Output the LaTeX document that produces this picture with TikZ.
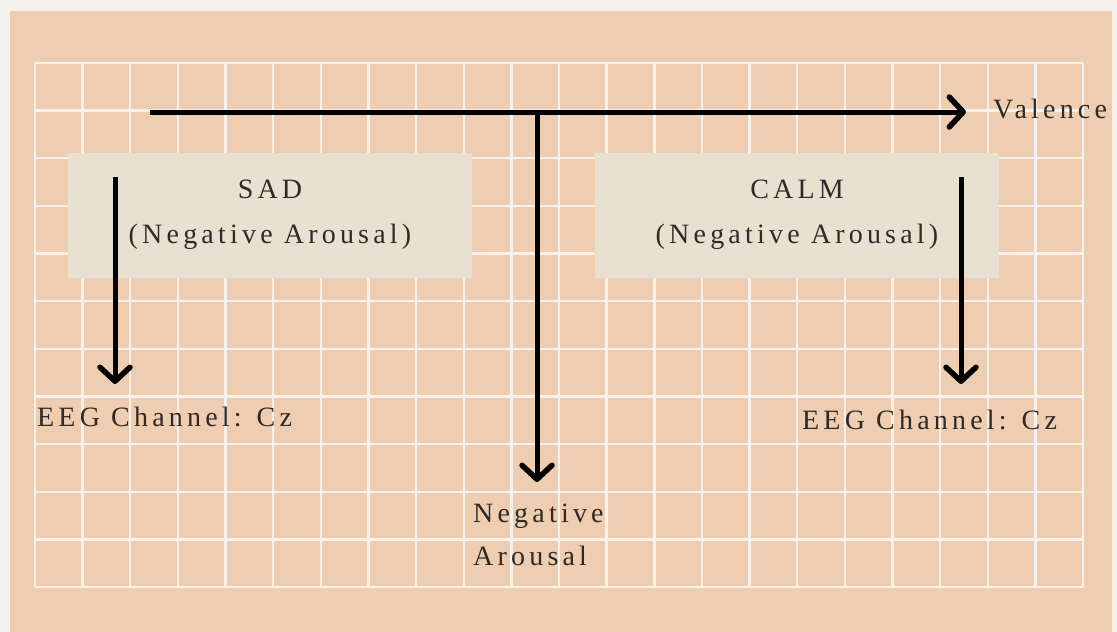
\documentclass[tikz,border=0pt]{standalone}
\usepackage{fontspec}
\setmainfont[LetterSpace=15]{Liberation Serif}
\usetikzlibrary{arrows.meta}
\definecolor{peach}{RGB}{239,205,176}
\definecolor{outer}{RGB}{245,242,237}
\definecolor{boxfill}{RGB}{232,224,209}
\definecolor{gridline}{RGB}{249,242,236}
\definecolor{txt}{RGB}{45,42,40}
\tikzset{
  lbl/.style={inner sep=0pt, text=txt, font=\fontsize{28}{32}\selectfont},
  catbox/.style={fill=boxfill, draw=none},
  axis/.style={line width=5pt, draw=black, -{Straight Barb[length=14pt,width=30pt,line width=5.5pt,round]}},
}
\begin{document}
\begin{tikzpicture}[x=1pt,y=-1pt]
\useasboundingbox (0,0) rectangle (1117,632);
\fill[outer] (0,0) rectangle (1117,632);
\fill[peach] (10,11) rectangle (1112,632);
% grid
\foreach \i in {0,...,22} {
  \draw[gridline, line width=2.4pt] ({35+47.64*\i},63) -- ({35+47.64*\i},587);
}
\foreach \j in {0,...,11} {
  \draw[gridline, line width=2.4pt] (35,{63+47.64*\j}) -- (1083,{63+47.64*\j});
}
% boxes
\node[catbox, minimum width=404pt, minimum height=125pt, inner sep=0pt] (sadbox) at (270,215.5) {};
\node[catbox, minimum width=404pt, minimum height=125pt, inner sep=0pt] (calmbox) at (796.5,215.5) {};
% texts
\node[lbl, anchor=base] (sad) at (270,198) {SAD};
\node[lbl, anchor=base] (sadsub) at (270,243) {(Negative Arousal)};
\node[lbl, anchor=base] (calm) at (797,198) {CALM};
\node[lbl, anchor=base] (calmsub) at (797,243) {(Negative Arousal)};
\node[lbl, anchor=base west] (valence) at (993,118) {Valence};
\node[lbl, anchor=base west] (eegl) at (37,426) {EEG Channel: Cz};
\node[lbl, anchor=base west] (eegr) at (802,429) {EEG Channel: Cz};
\node[lbl, anchor=base west] (neg) at (473,522) {Negative};
\node[lbl, anchor=base west] (arou) at (473,565) {Arousal};
% arrows
\coordinate (hstart) at (150,112);
\coordinate (hend) at (966,112);
\coordinate (vtop) at (537,112);
\coordinate (vend) at (537,482);
\coordinate (lstart) at (115,177);
\coordinate (lend) at (115,384);
\coordinate (rstart) at (961,177);
\coordinate (rend) at (961,384);
\draw[axis] (hstart) -- (hend);
\draw[axis] (vtop) -- (vend);
\draw[axis] (lstart) -- (lend);
\draw[axis] (rstart) -- (rend);
\end{tikzpicture}
\end{document}
